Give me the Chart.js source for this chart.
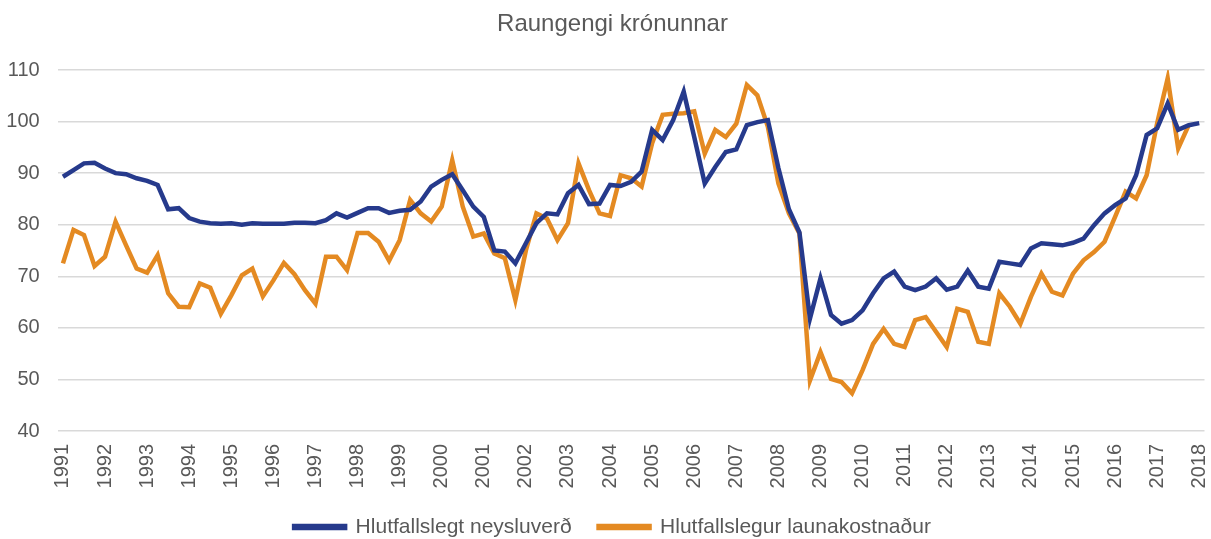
<!DOCTYPE html>
<html>
<head>
<meta charset="utf-8">
<title>Raungengi krónunnar</title>
<script src="https://cdn.jsdelivr.net/npm/chart.js@4.4.1/dist/chart.umd.min.js"></script>
<style>
  html, body { margin: 0; padding: 0; background: #fff; }
  #wrap { width: 1211px; height: 539px; }
</style>
</head>
<body>
<div id="wrap"><canvas id="chart-raungengi"></canvas></div>
<script>
const years = [
  1991, 1992, 1993, 1994, 1995, 1996, 1997, 1998, 1999, 2000,
  2001, 2002, 2003, 2004, 2005, 2006, 2007, 2008, 2009, 2010,
  2011, 2012, 2013, 2014, 2015, 2016, 2017, 2018,
]
const quarters = ['Q1', 'Q2', 'Q3', 'Q4']

// Hlutfallslegt neysluverð, ársfjórðungslega 1991Q1 - 2018Q1
const neysluverd = [
  89.3, 90.6, 91.9, 92.0, 90.9, 90.0, 89.8, 89.0, 88.5, 87.7,
  83.0, 83.2, 81.3, 80.6, 80.3, 80.2, 80.3, 80.0, 80.3, 80.2,
  80.2, 80.2, 80.4, 80.4, 80.3, 80.9, 82.2, 81.4, 82.3, 83.2,
  83.2, 82.3, 82.7, 82.9, 84.5, 87.4, 88.7, 89.8, 86.7, 83.5,
  81.5, 75.0, 74.8, 72.5, 76.4, 80.3, 82.2, 82.0, 86.1, 87.7,
  84.0, 84.1, 87.7, 87.5, 88.3, 90.3, 98.4, 96.4, 100.3, 105.8,
  97.0, 88.0, 91.2, 94.1, 94.6, 99.3, 99.9, 100.3, 91.0, 83.0,
  78.5, 61.8, 69.6, 62.5, 60.8, 61.5, 63.4, 66.7, 69.6, 70.9,
  68.0, 67.3, 68.0, 69.6, 67.4, 68.0, 71.1, 68.0, 67.6, 72.8,
  72.5, 72.2, 75.4, 76.4, 76.2, 76.0, 76.5, 77.3, 79.9, 82.2,
  83.8, 85.1, 89.6, 97.4, 98.7, 103.5, 98.4, 99.3, 99.7,
]

// Hlutfallslegur launakostnaður, 1991Q1 - 2017Q4
const launakostnadur = [
  72.5, 79.0, 78.0, 72.0, 73.8, 80.6, 76.0, 71.5, 70.7, 74.1,
  66.7, 64.1, 64.0, 68.6, 67.8, 62.7, 66.3, 70.2, 71.5, 66.1,
  69.2, 72.6, 70.4, 67.3, 64.7, 73.8, 73.8, 71.2, 78.4, 78.4,
  76.7, 73.0, 77.0, 84.8, 82.2, 80.6, 83.5, 92.5, 83.5, 77.7,
  78.3, 74.4, 73.5, 65.4, 75.0, 82.2, 81.2, 77.0, 80.3, 91.9,
  86.7, 82.2, 81.7, 89.6, 89.0, 87.4, 95.8, 101.3, 101.5, 101.6,
  102.0, 93.8, 98.4, 97.0, 99.6, 107.1, 105.1, 99.0, 88.0, 82.2,
  78.3, 49.8, 55.3, 50.1, 49.5, 47.3, 51.8, 56.9, 59.8, 56.9,
  56.3, 61.5, 62.1, 59.2, 56.3, 63.7, 63.1, 57.3, 56.9, 66.7,
  64.1, 60.8, 66.0, 70.5, 67.0, 66.3, 70.5, 73.1, 74.7, 76.7,
  81.5, 86.4, 85.1, 89.6, 99.7, 108.4, 94.8, 99.3, null,
]

const yTicks = [40, 50, 60, 70, 80, 90, 100, 110]

const FONT = "'Liberation Sans', Arial, sans-serif"
const TEXT_COLOR = '#595959'

class RaungengiChart {
  constructor() {
    const element = document.getElementById('chart-raungengi')
    this.labels = this._labels()
    this.chart = new Chart(element, this._parameters())
  }

  _labels() {
    const labels = []
    years.forEach((year) => {
      quarters.forEach((q) => labels.push(year + ' ' + q))
    })
    return labels.slice(0, neysluverd.length)
  }

  _parameters() {
    return {
      type: 'line',
      data: {
        labels: this.labels,
        datasets: this._datasets(),
      },
      options: this._options(),
    }
  }

  _datasets() {
    return [
      {
        label: 'Hlutfallslegt neysluverð',
        data: neysluverd,
        borderColor: '#263a8c',
        backgroundColor: '#263a8c',
        borderWidth: 4.5,
        pointRadius: 0,
        tension: 0,
      },
      {
        label: 'Hlutfallslegur launakostnaður',
        data: launakostnadur,
        borderColor: '#e48a22',
        backgroundColor: '#e48a22',
        borderWidth: 4.5,
        pointRadius: 0,
        tension: 0,
      },
    ]
  }

  _options() {
    return {
      responsive: true,
      maintainAspectRatio: false,
      animation: false,
      layout: {
        // title/legend centre sits right of the canvas middle in the original
        padding: { top: 10, bottom: -8.5, left: 0, right: -14 },
      },
      plugins: {
        title: {
          display: true,
          text: 'Raungengi krónunnar',
          color: TEXT_COLOR,
          font: { family: FONT, size: 24, weight: 'normal' },
          padding: { top: 0, bottom: 31.2 },
        },
        legend: {
          display: true,
          position: 'bottom',
          labels: {
            color: TEXT_COLOR,
            font: { family: FONT, size: 21 },
            boxWidth: 51,
            boxHeight: 2,
            padding: 27,
          },
        },
        tooltip: { enabled: false },
      },
      scales: {
        x: {
          type: 'category',
          offset: true,
          grid: { display: false, drawTicks: false },
          border: { display: false },
          ticks: {
            autoSkip: false,
            minRotation: 90,
            maxRotation: 90,
            padding: 13,
            color: TEXT_COLOR,
            font: { family: FONT, size: 20 },
            callback: (value, index) => {
              const label = this.labels[index]
              return label.endsWith('Q1') ? label.slice(0, 4) : null
            },
          },
          afterFit: (scale) => {
            scale.height = 58.5
            scale.paddingLeft = 0
            scale.paddingRight = 6.5
          },
        },
        y: {
          min: yTicks[0],
          max: yTicks[yTicks.length - 1],
          grid: { color: '#d9d9d9', lineWidth: 1.5, drawTicks: false },
          border: { display: false },
          ticks: {
            stepSize: 10,
            padding: 18,
            color: TEXT_COLOR,
            font: { family: FONT, size: 20 },
          },
          afterFit: (scale) => { scale.width = 57.7 },
        },
      },
    }
  }
}

new RaungengiChart()
</script>
</body>
</html>
